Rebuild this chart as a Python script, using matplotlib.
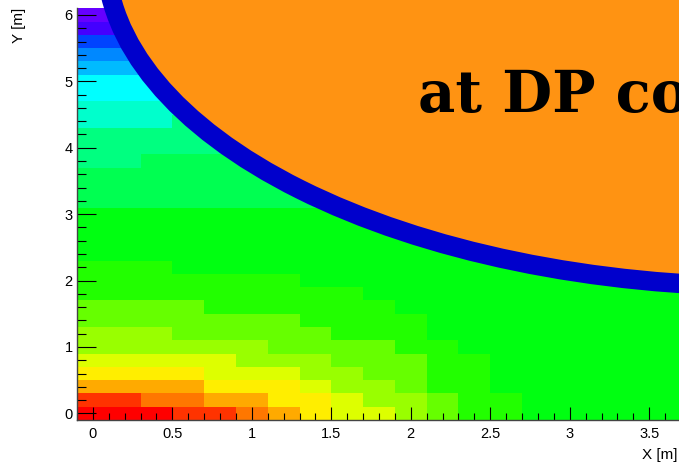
import numpy as np
import matplotlib
matplotlib.use('Agg')
import matplotlib.pyplot as plt
from matplotlib.colors import ListedColormap, BoundaryNorm, hsv_to_rgb
from matplotlib.patches import Ellipse
from matplotlib.ticker import MultipleLocator

# histogram binning (m), 0.2 m bins
x_edges = np.linspace(-0.1, 3.7, 20)
y_edges = np.linspace(-0.1, 6.1, 32)

# colour levels of the rainbow palette (hue in degrees), low -> high
level_codes = "abcdefghijklmnopqrs"
level_hues = [264, 256, 224, 208, 196, 180, 168, 150, 139, 124,
              112, 96, 84, 68, 56, 40, 28, 12, 0]

# cell levels, top row (y 5.9-6.1) first,
# columns x = -0.1 .. 3.7
cells = [
    "aaaaaaaaaaaaaaaaaaa",
    "bbbbbbbbbbbbbbbbbbb",
    "ccccccccccccccccccc",
    "ddddddddddddddddddd",
    "eeeeeeeeeeeeeeeeeee",
    "fffffffffffffffffff",
    "fffffffffffffffffff",
    "ggggggggggggggggggg",
    "ggghhhhhhhhhhhhhhhh",
    "hhhhhhhhhhhhhhhhhhh",
    "hhhhhhhhhhhhhhhhhhh",
    "hhiiiiiiiiiiiiiiiii",
    "iiiiiiiiiiiiiiiiiii",
    "iiiiiiiiiiiiiiiiiii",
    "iiiiiiiiiiiiiiiiiii",
    "jjjjjjjjjjjjjjjjjjj",
    "jjjjjjjjjjjjjjjjjjj",
    "jjjjjjjjjjjjjjjjjjj",
    "jjjjjjjjjjjjjjjjjjj",
    "kkkjjjjjjjjjjjjjjjj",
    "kkkkkkkjjjjjjjjjjjj",
    "kkkkkkkkkjjjjjjjjjj",
    "llllkkkkkkjjjjjjjjj",
    "lllllllkkkkjjjjjjjj",
    "mmmlllllkkkjjjjjjjj",
    "mmmmmmllllkkjjjjjjj",
    "nnnnnmmmlllkkjjjjjj",
    "oooonnnmmllkkjjjjjj",
    "ppppooonmmlkkjjjjjj",
    "rrqqppoonmmlkkjjjjj",
    "sssrrqponnmlkkjjjjj",
]

z = np.array([[level_codes.index(ch) for ch in row] for row in cells[::-1]])

colors = [hsv_to_rgb((h / 360.0, 1.0, 1.0)) for h in level_hues]
cmap = ListedColormap(colors)
norm = BoundaryNorm(np.arange(-0.5, len(level_codes) + 0.5), len(level_codes))

W, H = 679, 462
fig = plt.figure(figsize=(W / 100, H / 100), dpi=100)
ax = fig.add_axes([77 / W, 42 / H, 604 / W, 411.7 / H])

ax.pcolormesh(x_edges, y_edges, z, cmap=cmap, norm=norm, antialiased=False)
ax.set_xlim(-0.1, 3.7)
ax.set_ylim(-0.1, 6.1)

# axis cosmetics (ROOT-like)
for s in ['top', 'right']:
    ax.spines[s].set_visible(False)
for s in ['left', 'bottom']:
    ax.spines[s].set_color('#444444')
    ax.spines[s].set_linewidth(1.0)

ax.xaxis.set_major_locator(MultipleLocator(0.5))
ax.xaxis.set_minor_locator(MultipleLocator(0.1))
ax.yaxis.set_major_locator(MultipleLocator(1))
ax.yaxis.set_minor_locator(MultipleLocator(0.2))
ax.set_xticks([0, 0.5, 1, 1.5, 2, 2.5, 3, 3.5])
ax.set_xticklabels(['0', '0.5', '1', '1.5', '2', '2.5', '3', '3.5'])
ax.set_yticks([0, 1, 2, 3, 4, 5, 6])
ax.set_yticklabels(['0', '1', '2', '3', '4', '5', '6'])

ax.tick_params(axis='x', which='major', direction='in', length=9.1, width=0.8, pad=5)
ax.tick_params(axis='x', which='minor', direction='in', length=4.8, width=0.8)
ax.tick_params(axis='y', which='major', direction='in', length=13.5, width=0.8, pad=3)
ax.tick_params(axis='y', which='minor', direction='in', length=6.3, width=0.8)
for lab in ax.get_xticklabels() + ax.get_yticklabels():
    lab.set_fontfamily('Liberation Sans')
    lab.set_fontsize(10.5)

fig.text(678 / W, 1 - 459 / H, 'X [m]', ha='right', va='baseline',
         fontsize=11, family='Liberation Sans')
fig.text(19 / W, 1 - 8 / H, 'Y [m]', ha='center', va='top', rotation=90,
         fontsize=11, family='Liberation Sans')

# big overlay ellipse with label
ell = Ellipse((4.26, 6.9), 8.36, 9.98, facecolor='#ff9312', edgecolor='#0000cc',
              linewidth=14, clip_on=False, zorder=5)
ax.add_patch(ell)

fig.text(418 / W, 1 - 111.7 / H, 'at DP co', ha='left', va='baseline',
         fontsize=41.5, fontweight='bold', family='DejaVu Serif', zorder=10)

fig.savefig('out.png', dpi=100)
